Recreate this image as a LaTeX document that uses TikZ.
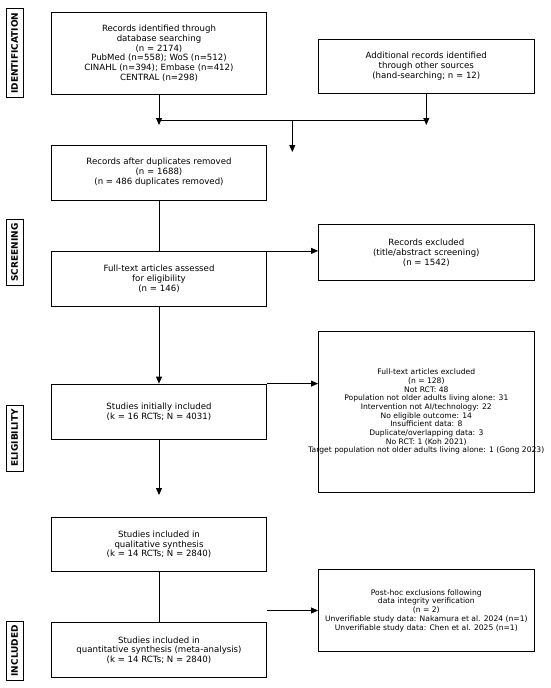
\documentclass[tikz,border=0pt]{standalone}
\usepackage{fontspec}
\setmainfont{DejaVu Sans}
\usetikzlibrary{arrows.meta}

\begin{document}
\begin{tikzpicture}[x=1pt, y=-1pt,
		box/.style={draw, line width=0.8pt, minimum width=215.7pt, inner sep=0, align=center, font=\fontsize{8.6}{9.9}\selectfont},
		smallbox/.style={box, font=\fontsize{7.6}{8.7}\selectfont},
		phase/.style={draw, line width=0.8pt, rotate=90, inner xsep=4pt, inner ysep=5pt, font=\bfseries\fontsize{9}{9}\selectfont},
		flow/.style={line width=0.8pt, -{Triangle[width=6pt,length=7pt]}},
		link/.style={line width=0.8pt}]
		\useasboundingbox (0,0) rectangle (550,688);
		\foreach \y/\t in {53.3/IDENTIFICATION,252.5/SCREENING,438/ELIGIBILITY,650.8/INCLUDED} {
			\node[phase] (\t) at(14.7,\y) {\t};
		};
		\node[box, minimum height=81.3pt] (ident) at(159,53.3) {Records identified through\\database searching\\(n = 2174)\\PubMed (n=558); WoS (n=512)\\CINAHL (n=394); Embase (n=412)\\CENTRAL (n=298)};
		\node[box, minimum height=54.3pt] (extra) at(426.3,66.2) {Additional records identified\\through other sources\\(hand-searching; n = 12)};
		\node[box, minimum height=55pt] (dedup) at(159,172.5) {Records after duplicates removed\\(n = 1688)\\(n = 486 duplicates removed)};
		\node[box, minimum height=55.4pt] (assess) at(159,279) {Full-text articles assessed\\for eligibility\\(n = 146)};
		\node[box, minimum height=56pt] (screenex) at(426.3,252.5) {Records excluded\\(title/abstract screening)\\(n = 1542)};
		\node[box, minimum height=161.3pt] (fullex) at(426.3,411.7) {};
		\node[smallbox, draw=none] (fullex-text) at(fullex.center) {Full-text articles excluded\\(n = 128)\\Not RCT: 48\\Population not older adults living alone: 31\\Intervention not AI/technology: 22\\No eligible outcome: 14\\Insufficient data: 8\\Duplicate/overlapping data: 3\\No RCT: 1 (Koh 2021)\\Target population not older adults living alone: 1 (Gong 2023)};
		\node[box, minimum height=55pt] (initial) at(159,411.5) {Studies initially included\\(k = 16 RCTs; N = 4031)};
		\node[box, minimum height=54.7pt] (qual) at(159,544.3) {Studies included in\\qualitative synthesis\\(k = 14 RCTs; N = 2840)};
		\node[box, minimum height=55pt] (quant) at(159,650.2) {Studies included in\\quantitative synthesis (meta-analysis)\\(k = 14 RCTs; N = 2840)};
		\node[smallbox, minimum height=82.4pt] (posthoc) at(426.3,610.5) {Post-hoc exclusions following\\data integrity verification\\(n = 2)\\Unverifiable study data: Nakamura et al. 2024 (n=1)\\Unverifiable study data: Chen et al. 2025 (n=1)};
		% free ends of the connectors
		\coordinate (ident-end) at(159,125);
		\coordinate (extra-end) at(426.3,125);
		\coordinate (merge-l) at(159,120);
		\coordinate (merge-r) at(426.3,120);
		\coordinate (merge-c) at(292.3,120);
		\coordinate (merge-end) at(292.3,152);
		\coordinate (initial-end) at(159,495);
		\coordinate (posthoc-start) at(266.7,610.5);
		\draw[flow] (ident) -- (ident-end);
		\draw[flow] (extra) -- (extra-end);
		\draw[link] (merge-l) -- (merge-r);
		\draw[flow] (merge-c) -- (merge-end);
		\draw[link] (dedup) -- (assess);
		\draw[flow] (assess.north east) -- (assess.north east -| screenex.west);
		\draw[flow] (assess) -- (initial);
		\draw[flow] (initial.north east) -- (initial.north east -| fullex.west);
		\draw[flow] (initial) -- (initial-end);
		\draw[link] (qual) -- (quant);
		\draw[flow] (posthoc-start) -- (posthoc);
	\end{tikzpicture}
\end{document}
